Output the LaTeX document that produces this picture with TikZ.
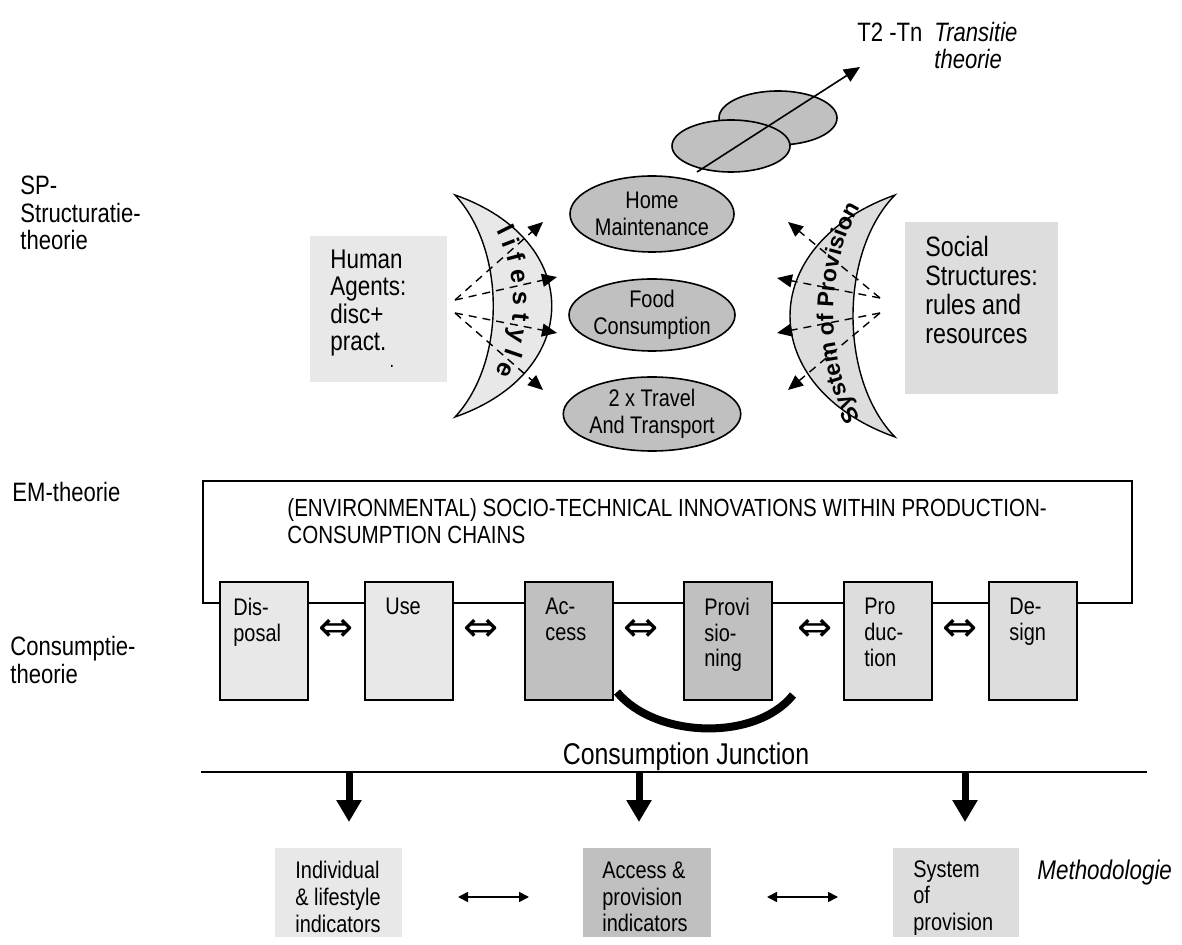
\documentclass[tikz,border=0pt]{standalone}
\usepackage{fontspec}
\setmainfont{Liberation Sans}[FakeStretch=0.83]
\newfontfamily\crfont{Liberation Sans}
\newfontfamily\djv{DejaVu Sans}
\usetikzlibrary{arrows.meta,decorations.text,shapes.geometric}
\definecolor{lightfill}{HTML}{E8E8E8}
\definecolor{midfill}{HTML}{DDDDDD}
\definecolor{darkfill}{HTML}{C0C0C0}
\tikzset{
  lbl/.style={font=\fontsize{13.3}{13.6}\selectfont, align=left, anchor=west, inner sep=0pt},
  itlbl/.style={font=\fontsize{13.5}{13.8}\selectfont\itshape, align=left, anchor=west, inner sep=0pt},
  boxtxt/.style={font=\fontsize{12}{12.8}\selectfont, align=left, anchor=north west, inner sep=0pt},
  btxt/.style={font=\fontsize{12}{13.3}\selectfont, align=left, anchor=west, inner sep=0pt},
  stepbox/.style={draw, line width=0.8pt, minimum width=44pt, minimum height=59pt, inner sep=0pt, anchor=north west},
  oval/.style={ellipse, draw, line width=0.8pt, fill=darkfill, inner sep=0pt, font=\fontsize{12}{13.5}\selectfont, align=center},
  dasharrow/.style={dash pattern=on 4pt off 3pt, line width=0.7pt, -{Triangle[length=7.5pt,width=6.5pt]}},
  bigdown/.style={line width=3.5pt, -{Triangle[length=11pt,width=12pt]}},
  dbl/.style={line width=0.8pt, {Triangle[length=5pt,width=5pt]}-{Triangle[length=5pt,width=5pt]}},
  panelbox/.style={inner sep=0pt, anchor=north west},
  equiv/.style={font=\djv\fontsize{21}{21}\selectfont, inner sep=0pt},
}
\begin{document}
\begin{tikzpicture}[x=0.5pt,y=-0.5pt]
\useasboundingbox[fill=white] (0,0) rectangle (1182,945);

% side labels
\node[lbl] (sp) at (20,213) {SP-\\Structuratie-\\theorie};
\node[lbl] (em) at (12,492) {EM-theorie};
\node[lbl] (ct) at (10,660) {Consumptie-\\theorie};

% transition theory
\node[lbl] (t2) at (857,32) {T2 -Tn};
\node[itlbl, font=\fontsize{13.3}{13.6}\selectfont\itshape] (tt) at (934,45.5) {Transitie\\theorie};
\node[oval, minimum width=59pt, minimum height=27pt] (tb) at (778,118) {};
\node[oval, minimum width=59pt, minimum height=26pt] (tf) at (731,146) {};
\coordinate (ts) at (697,172);
\coordinate (te) at (860,67);
\draw[line width=0.8pt, -{Triangle[length=8pt,width=7pt]}] (ts) -- (te);

% human agents
\node[panelbox, fill=lightfill, minimum width=68.5pt, minimum height=73pt] (human) at (310,236) {};
\node[lbl, font=\fontsize{13.5}{13.75}\selectfont] (humantxt) at (330,303) {Human\\Agents:\\disc+\\pract.};
\node[inner sep=0pt, font=\fontsize{10}{10}\selectfont] (dot) at (392,366) {.};

% social structures
\node[panelbox, fill=midfill, minimum width=76.5pt, minimum height=86pt] (social) at (905,222) {};
\node[lbl, font=\fontsize{14}{14.6}\selectfont] (socialtxt) at (925,290) {Social\\Structures:\\rules and\\resources};

% crescents
\draw[fill=lightfill, line width=0.7pt] (455,195) .. controls (584,240) and (584,372) .. (455,417)
  .. controls (506,362) and (506,250) .. cycle;
\draw[fill=midfill, line width=0.7pt] (895,195) .. controls (755,245) and (755,387) .. (895,437)
  .. controls (839,380) and (839,252) .. cycle;
\path[decorate, decoration={text along path, text align=center,
  text={|\crfont\bfseries\fontsize{12.5}{12.5}\selectfont|l i f e s t y l e}}]
  (490,220) .. controls (521,267) and (521,337) .. (489,383);
\path[decorate, decoration={text along path, text align=center,
  text={|\crfont\bfseries\fontsize{11.5}{11.5}\selectfont|System of Provision}}]
  (867,428) .. controls (822,368) and (822,260) .. (867,198);

% ovals
\node[oval, minimum width=82pt, minimum height=38pt] (home) at (652,214) {Home\\Maintenance};
\node[oval, minimum width=80pt, minimum height=36pt] (food) at (652,315) {Food\\Consumption};
\node[oval, minimum width=82pt, minimum height=37pt] (trav) at (652,414) {2 x Travel\\And Transport};

% dashed fans
\coordinate (lo1) at (455,300);
\coordinate (lo2) at (455,313);
\coordinate (lt1) at (543,222);
\coordinate (lt2) at (557,277);
\coordinate (lt3) at (557,333);
\coordinate (lt4) at (543,390);
\draw[dasharrow] (lo1) -- (lt1);
\draw[dasharrow] (lo1) -- (lt2);
\draw[dasharrow] (lo2) -- (lt3);
\draw[dasharrow] (lo2) -- (lt4);
\coordinate (ro1) at (880,298);
\coordinate (ro2) at (880,313);
\coordinate (rt1) at (788,222);
\coordinate (rt2) at (777,278);
\coordinate (rt3) at (777,333);
\coordinate (rt4) at (788,390);
\draw[dasharrow] (ro1) -- (rt1);
\draw[dasharrow] (ro1) -- (rt2);
\draw[dasharrow] (ro2) -- (rt3);
\draw[dasharrow] (ro2) -- (rt4);

% EM frame
\draw[line width=0.8pt] (203,481) rectangle (1132,603);
\node[lbl, font=\fontsize{12.4}{13.5}\selectfont] (frametxt) at (287,521.5)
  {(ENVIRONMENTAL) SOCIO-TECHNICAL INNOVATIONS WITHIN PRODUCTION-\\CONSUMPTION CHAINS};

% chain boxes
\node[stepbox, fill=lightfill] (disp) at (219,581) {};
\node[stepbox, fill=lightfill] (use) at (364,581) {};
\node[stepbox, fill=darkfill] (acc) at (524,581) {};
\node[stepbox, fill=darkfill] (prov) at (683,581) {};
\node[stepbox, fill=midfill] (prod) at (843,581) {};
\node[stepbox, fill=midfill] (des) at (988,581) {};
\node[boxtxt] (disptxt) at ([xshift=7pt,yshift=-8.5pt]disp.north west) {Dis-\\posal};
\node[boxtxt] (usetxt) at ([xshift=10.5pt,yshift=-8.5pt]use.north west) {Use};
\node[boxtxt] (acctxt) at ([xshift=10.5pt,yshift=-8.5pt]acc.north west) {Ac-\\cess};
\node[boxtxt] (provtxt) at ([xshift=10.5pt,yshift=-8.5pt]prov.north west) {Provi\\sio-\\ning};
\node[boxtxt] (prodtxt) at ([xshift=10.5pt,yshift=-8.5pt]prod.north west) {Pro\\duc-\\tion};
\node[boxtxt] (destxt) at ([xshift=10.5pt,yshift=-8.5pt]des.north west) {De-\\sign};
\node[equiv] (eq1) at (336,630) {⇔};
\node[equiv] (eq2) at (481,630) {⇔};
\node[equiv] (eq3) at (641,630) {⇔};
\node[equiv] (eq4) at (815,630) {⇔};
\node[equiv] (eq5) at (960,630) {⇔};

% consumption junction
\coordinate (cja) at (617,692);
\coordinate (cjb) at (793,695);
\draw[line width=4pt] (cja) .. controls (655,738) and (755,742) .. (cjb);
\node[inner sep=0pt, font=\fontsize{15}{15}\selectfont] (cj) at (686,757) {Consumption Junction};

% methodology
\coordinate (hl) at (201,772);
\coordinate (hr) at (1147,772);
\draw[line width=1pt] (hl) -- (hr);
\coordinate (a1s) at (349,772);
\coordinate (a1e) at (349,822);
\coordinate (a2s) at (639,772);
\coordinate (a2e) at (639,822);
\coordinate (a3s) at (965,772);
\coordinate (a3e) at (965,822);
\draw[bigdown] (a1s) -- (a1e);
\draw[bigdown] (a2s) -- (a2e);
\draw[bigdown] (a3s) -- (a3e);

\node[panelbox, fill=lightfill, minimum width=63.5pt, minimum height=44.5pt] (ind) at (275,848) {};
\node[panelbox, fill=darkfill, minimum width=64pt, minimum height=44.5pt] (apr) at (583,848) {};
\node[panelbox, fill=midfill, minimum width=63pt, minimum height=44.5pt] (sop) at (893,848) {};
\node[btxt] (indtxt) at (295,897) {Individual\\\& lifestyle\\indicators};
\node[btxt] (aprtxt) at (602,897) {Access \&\\provision\\indicators};
\node[btxt] (soptxt) at (913,898) {System\\of\\provision};
\coordinate (d1a) at (458,897);
\coordinate (d1b) at (529,897);
\coordinate (d2a) at (767,897);
\coordinate (d2b) at (838,897);
\draw[dbl] (d1a) -- (d1b);
\draw[dbl] (d2a) -- (d2b);
\node[itlbl] (meth) at (1037,873) {Methodologie};
\end{tikzpicture}
\end{document}
